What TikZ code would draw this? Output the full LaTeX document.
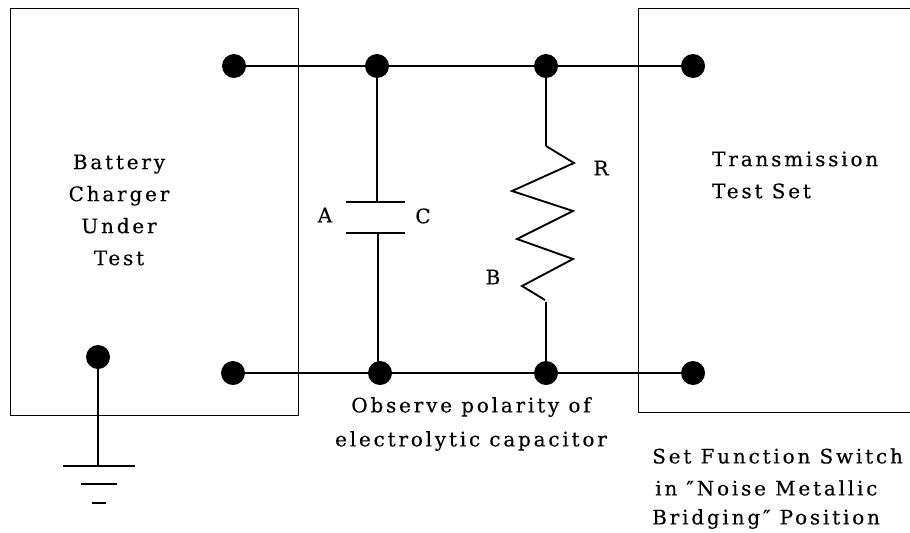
\documentclass[tikz,border=0pt]{standalone}
\usepackage{fontspec}
\setmainfont[LetterSpace=14,FakeBold=0.25]{DejaVu Serif}
\begin{document}
\begin{tikzpicture}[x=0.75pt,y=-0.75pt,
  dotn/.style={circle,fill=black,inner sep=0pt,minimum size=18pt},
  wire/.style={line width=2.2pt},
  boxline/.style={line width=0.7pt},
  zig/.style={line width=1.4pt,line join=miter},
  lab/.style={font=\fontsize{15pt}{24pt}\selectfont,inner sep=0pt,align=center}]
\useasboundingbox (0,0) rectangle (910,532);
\draw[boxline] (298,8) -- (10,8) -- (10,415) -- (298,415) -- cycle;
\draw[boxline] (910,8) -- (638,8) -- (638,412) -- (910,412);
\node[dotn] (a1) at (234,66) {};
\node[dotn] (a2) at (377,66) {};
\node[dotn] (a3) at (546,66) {};
\node[dotn] (a4) at (693,66) {};
\node[dotn] (b1) at (233,373) {};
\node[dotn] (b2) at (380,373) {};
\node[dotn] (b3) at (546,373) {};
\node[dotn] (b4) at (693,373) {};
\node[dotn] (g) at (98,357) {};
\draw[wire] (a1) -- (a4);
\draw[wire] (b1) -- (b4);
\coordinate (c1) at (377,202);
\coordinate (c2) at (378,233);
\draw[wire] (a2) -- (c1);
\draw[wire] (c2) -- (c2 |- b2);
\draw[wire] (346,202) -- (405,202);
\draw[wire] (346,233) -- (405,233);
\coordinate (r1) at (546,146);
\coordinate (r2) at (546,302);
\draw[wire] (a3) -- (r1);
\draw[wire] (r2) -- (b3);
\draw[zig] (r1) -- (574,163) -- (512,191) -- (573,211) -- (517,239) -- (573,259) -- (522,286) -- (545,300);
\coordinate (gt) at (98,466);
\draw[wire] (g) -- (gt);
\draw[wire] (63,466) -- (135,466);
\draw[wire] (81,484) -- (117,484);
\draw[wire] (92,503) -- (106,503);
\node[lab] at (119,210) {Battery\\Charger\\Under\\Test};
\node[lab] at (325,215) {A};
\node[lab] at (423,216) {C};
\node[lab] at (601,168) {R};
\node[lab] at (493,277) {B};
\node[lab,align=left,anchor=west] at (712,175) {Transmission\\Test Set};
\node[lab] at (471,407) {Observe polarity of};
\node[lab] at (471,441) {electrolytic capacitor};
\node[lab,anchor=west] at (652,456) {Set Function Switch};
\node[lab,anchor=west] at (655,488) {in ″Noise Metallic};
\node[lab,anchor=west] at (652,519) {Bridging″ Position};
\end{tikzpicture}
\end{document}
